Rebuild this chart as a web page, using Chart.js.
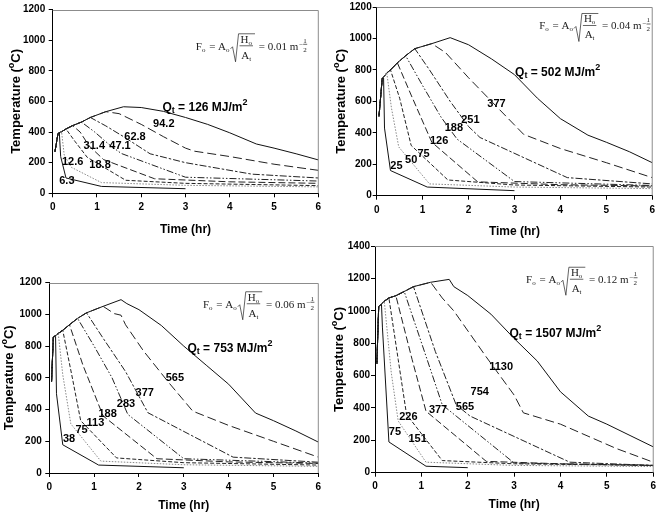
<!DOCTYPE html>
<html>
<head>
<meta charset="utf-8">
<script src="https://cdn.jsdelivr.net/npm/chart.js@4.4.0/dist/chart.umd.min.js"></script>
<style>
  html, body { margin: 0; padding: 0; background: #fff; }
  #wrap { position: relative; width: 660px; height: 514px; overflow: hidden; background: #fff; }
  canvas { position: absolute; }
</style>
</head>
<body>
<div id="wrap">
  <canvas id="c1" width="330" height="257" style="left:0px;top:0px"></canvas>
  <canvas id="c2" width="330" height="257" style="left:330px;top:0px"></canvas>
  <canvas id="c3" width="330" height="257" style="left:0px;top:257px"></canvas>
  <canvas id="c4" width="330" height="284" style="left:330px;top:230px"></canvas>
</div>
<script>
// time in hours, temperature in deg C

// Fo = 0.01
const fo1Names = ['6.3', '12.6', '18.8', '31.4', '47.1', '62.8', '94.2'];
const fo1Qt = '126';
const fo1Env = [[0.05,270],[0.12,390],[0.2,402],[0.3,420],[0.45,442],[0.65,465],[0.85,495],[1.2,533],[1.6,565]];
const fo1Decay = [
  [[0.15,395],[0.18,240],[0.3,100],[1.1,45],[3,30]],
  [[0.26,250],[0.42,170],[1.1,70],[3,52],[6,42]],
  [[0.5,340],[0.78,235],[1.65,85],[3,65],[6,50]],
  [[0.62,400],[0.82,310],[1.15,220],[2.3,95],[4,75],[6,65]],
  [[0.95,400],[1.3,312],[1.55,260],[3.0,105],[6,80]],
  [[1.2,440],[1.6,370],[2.2,258],[3,200],[4.5,125],[6,100]],
  [[1.5,520],[2.0,450],[2.5,370],[3.0,295],[3.2,275],[4,240],[5,190],[6,150]],
  [[2.0,560],[2.5,535],[3.0,495],[3.5,450],[4.0,395],[4.6,322],[5.0,295],[5.5,258],[6,218]]
];

// Fo = 0.04
const fo2Names = ['25', '50', '75', '126', '188', '251', '377'];
const fo2Qt = '502';
const fo2Env = [[0.05,505],[0.12,745],[0.22,780],[0.3,800],[0.45,845],[0.63,890],[0.83,935],[1.2,967],[1.6,1005]];
const fo2Decay = [
  [[0.15,748],[0.17,430],[0.3,160],[1.1,55],[3,32]],
  [[0.32,560],[0.48,310],[1.15,75],[3,55],[6,45]],
  [[0.5,620],[0.75,320],[1.55,100],[3,68],[6,55]],
  [[0.75,640],[1.2,340],[2.2,88],[4,70],[6,62]],
  [[1.0,700],[1.4,500],[1.75,360],[3.0,90],[6,65]],
  [[1.15,800],[1.6,600],[2.0,440],[2.25,370],[4.15,115],[6,75]],
  [[1.5,910],[2.0,750],[2.5,600],[3.0,450],[3.2,390],[4,300],[5,210],[6,115]],
  [[2.0,960],[2.5,870],[3.0,770],[3.5,620],[4.0,490],[4.6,385],[5,340],[5.5,280],[6,210]]
];

// Fo = 0.06
const fo3Names = ['38', '75', '113', '188', '283', '377', '565'];
const fo3Qt = '753';
const fo3Env = [[0.05,575],[0.09,857],[0.2,880],[0.3,900],[0.45,935],[0.63,975],[0.83,1010],[1.2,1051],[1.6,1093]];
const fo3Decay = [
  [[0.14,862],[0.16,500],[0.3,178],[1.1,50],[3,33]],
  [[0.3,620],[0.48,310],[1.15,75],[3,52],[6,42]],
  [[0.5,620],[0.7,330],[1.5,95],[3,65],[6,50]],
  [[0.75,680],[1.2,360],[2.4,90],[4,70],[6,60]],
  [[1.0,800],[1.4,600],[1.75,370],[3.0,90],[6,62]],
  [[1.2,850],[1.7,640],[2.2,380],[4.1,100],[6,68]],
  [[1.45,1005],[1.6,995],[1.7,935],[2.1,770],[2.65,575],[3.2,390],[4,300],[5,200],[6,100]],
  [[1.73,1068],[2.0,1030],[2.5,930],[3.0,800],[3.5,680],[4.0,560],[4.6,378],[5,330],[5.5,265],[6,195]]
];

// Fo = 0.12
const fo4Names = ['75', '151', '226', '377', '565', '754', '1130'];
const fo4Qt = '1507';
const fo4Env = [[0.04,673],[0.08,1028],[0.2,1060],[0.3,1080],[0.45,1094],[0.63,1120],[0.83,1150],[1.2,1177],[1.6,1195]];
const fo4Decay = [
  [[0.14,1040],[0.16,900],[0.3,190],[1.1,40],[2.0,31]],
  [[0.35,620],[0.5,320],[1.1,65],[3,45],[6,38]],
  [[0.5,700],[0.68,360],[1.45,75],[3,55],[6,45]],
  [[0.8,700],[1.1,380],[2.4,70],[4,55],[6,45]],
  [[1.1,720],[1.45,420],[1.75,350],[3.0,60],[6,45]],
  [[1.3,750],[1.75,420],[2.05,350],[4.2,65],[6,45]],
  [[1.45,1080],[1.7,1000],[2.4,715],[3.0,480],[3.2,370],[4,300],[5.2,150],[6,65]],
  [[1.7,1150],[2.0,1095],[2.5,980],[3.0,830],[3.5,690],[4.0,500],[4.6,350],[5,300],[5.5,230],[6,160]]
];

// how many envelope points each curve follows before it decays
const risePoints = [2, 3, 4, 5, 6, 7, 8, 9];

// where the curve labels sit (hr, deg C)
const fo1NamePos = [[0.32,81],[0.45,204],[1.07,183],[0.94,312],[1.52,312],[1.86,370],[2.51,451]];
const fo2NamePos = [[0.43,188],[0.75,230],[1.02,267],[1.36,351],[1.68,430],[2.04,482],[2.61,583]];
const fo3NamePos = [[0.44,214],[0.72,271],[1.03,317],[1.3,372],[1.71,435],[2.13,502],[2.8,601]];
const fo4NamePos = [[0.43,250],[0.92,210],[0.72,343],[1.36,385],[1.94,406],[2.26,498],[2.72,656]];

const lineColors = ['#111', '#888', '#222', '#222', '#222', '#222', '#222', '#111'];
const lineDashes = [[], [1.5, 1.5], [4, 2], [7, 3], [7, 2, 1.5, 2, 1.5, 2], [7, 2, 2.5, 2], [9, 4], []];

const sansFont = '"Liberation Sans", Arial, sans-serif';
const serifFont = '"Liberation Serif", "Times New Roman", serif';

// draw text pieces one after another, centred on cx
function drawRich(ctx, parts, cx, cy)
{
  let total = 0;
  parts.forEach(p => { ctx.font = p[1]; total += ctx.measureText(p[0]).width; });
  let xx = cx - total / 2;
  parts.forEach(p => {
    ctx.font = p[1];
    ctx.fillText(p[0], xx, cy + p[2]);
    xx += ctx.measureText(p[0]).width;
  });
}

// Fo = Ao sqrt(Ho/At) = val m^-1/2
function drawFormula(ctx, cx, by, val)
{
  const big = '11px ' + serifFont;
  const sm = '7px ' + serifFont;
  const wOf = (t, f) => { ctx.font = f; return ctx.measureText(t).width; };
  ctx.save();
  ctx.fillStyle = '#222';
  ctx.strokeStyle = '#222';
  ctx.lineWidth = 0.7;
  ctx.textAlign = 'left';
  ctx.textBaseline = 'alphabetic';

  const numW = wOf('H', big) + wOf('o', sm);
  const denW = wOf('A', big) + wOf('t', sm);
  const fracW = Math.max(numW, denW) + 2;
  const total = wOf('F', big) + wOf('o', sm) + 1 + wOf(' = A', big) + wOf('o', sm) + 1 + 9 + fracW + 3 + wOf(' = ' + val + ' m', big) + 8;
  let x = cx - total / 2;
  const put = (t, f, dy) => { ctx.font = f; ctx.fillText(t, x, by + dy); x += ctx.measureText(t).width; };

  put('F', big, 0); put('o', sm, 2); x += 1;
  put(' = A', big, 0); put('o', sm, 2); x += 1;

  ctx.beginPath();
  ctx.moveTo(x, by - 1);
  ctx.lineTo(x + 2, by - 3);
  ctx.lineTo(x + 5, by + 12);
  ctx.lineTo(x + 8, by - 16);
  ctx.lineTo(x + 9 + fracW + 2, by - 16);
  ctx.stroke();
  x += 9;

  const fx = x;
  x = fx + (fracW - numW) / 2;
  put('H', big, -7); put('o', sm, -5);
  x = fx + (fracW - denW) / 2;
  put('A', big, 9); put('t', sm, 11);
  ctx.beginPath();
  ctx.moveTo(fx, by - 4);
  ctx.lineTo(fx + fracW, by - 4);
  ctx.stroke();

  x = fx + fracW + 3;
  put(' = ' + val + ' m', big, 0);
  x += 1;
  ctx.font = sm;
  ctx.fillText('\u2212', x, by - 3);
  x += wOf('\u2212', sm);
  ctx.fillText('1', x, by - 7);
  ctx.fillText('2', x, by + 2);
  ctx.beginPath();
  ctx.moveTo(x, by - 5.5);
  ctx.lineTo(x + 4, by - 5.5);
  ctx.stroke();
  ctx.restore();
}

const decor = {
  id: 'decor',
  afterDraw(chart, args, o)
  {
    const ctx = chart.ctx;
    const a = chart.chartArea;
    const sx = chart.scales.x;
    const sy = chart.scales.y;
    ctx.save();

    // top and right frame
    ctx.strokeStyle = '#8c8c8c';
    ctx.lineWidth = 1;
    ctx.beginPath();
    ctx.moveTo(a.left, Math.round(a.top) + 0.5);
    ctx.lineTo(a.right, Math.round(a.top) + 0.5);
    ctx.lineTo(a.right, a.bottom);
    ctx.stroke();

    ctx.fillStyle = '#000';

    // curve labels
    ctx.font = 'bold 11px ' + sansFont;
    ctx.textAlign = 'center';
    ctx.textBaseline = 'middle';
    o.names.forEach((n, i) => {
      ctx.fillText(n, sx.getPixelForValue(o.namePos[i][0]), sy.getPixelForValue(o.namePos[i][1]));
    });

    // Qt label
    ctx.textAlign = 'left';
    const b12 = 'bold 12px ' + sansFont;
    const b9 = 'bold 9px ' + sansFont;
    drawRich(ctx, [['Q', b12, 0], ['t', b9, 3], [' = ' + o.qt + ' MJ/m', b12, 0], ['2', b9, -5]],
      sx.getPixelForValue(o.qtPos[0]), sy.getPixelForValue(o.qtPos[1]));

    // formula
    drawFormula(ctx, sx.getPixelForValue(o.foPos[0]), sy.getPixelForValue(o.foPos[1]), o.fo);

    // axis titles
    ctx.font = 'bold 12px ' + sansFont;
    ctx.textAlign = 'center';
    ctx.textBaseline = 'middle';
    ctx.fillText('Time (hr)', (a.left + a.right) / 2, o.xTitleY);

    ctx.translate(o.yTitleX, (a.top + a.bottom) / 2);
    ctx.rotate(-Math.PI / 2);
    ctx.textAlign = 'left';
    const b13 = 'bold 13px ' + sansFont;
    drawRich(ctx, [['Temperature (', b13, 0], ['o', 'bold 9px ' + sansFont, -4], ['C)', b13, 0]], 0, 0);
    ctx.restore();
  }
};

function makePanel(p)
{
  let datasets = p.decay.map((d, i) => ({
    data: p.env.slice(0, risePoints[i]).concat(d).map(pt => ({x: pt[0], y: pt[1]})),
    borderColor: lineColors[i],
    borderWidth: 1,
    borderDash: lineDashes[i],
    pointRadius: 0,
    tension: 0,
    fill: false
  }));

  let tickFont = {family: sansFont, size: 10, weight: 'bold'};

  new Chart(document.getElementById(p.id), {
    type: 'line',
    data: {datasets: datasets},
    options: {
      responsive: false,
      animation: false,
      devicePixelRatio: 1,
      layout: {
        autoPadding: false,
        padding: {left: 0, top: p.area.top, right: p.w - p.area.right, bottom: 0}
      },
      plugins: {
        legend: {display: false},
        tooltip: {enabled: false},
        decor: p.decor
      },
      scales: {
        x: {
          type: 'linear', min: 0, max: 6,
          afterFit: s => { s.height = p.h - p.area.bottom; },
          ticks: {stepSize: 1, padding: p.xPad, color: '#000', font: tickFont, callback: v => String(v)},
          grid: {drawOnChartArea: false, tickLength: 4, color: '#000'},
          border: {color: '#000'}
        },
        y: {
          type: 'linear', min: 0, max: p.yMax,
          afterFit: s => { s.width = p.area.left; },
          ticks: {stepSize: 200, padding: p.yPad, color: '#000', font: tickFont, callback: v => String(v)},
          grid: {drawOnChartArea: false, tickLength: 4, color: '#000'},
          border: {color: '#000'}
        }
      }
    },
    plugins: [decor]
  });
}

makePanel({
  id: 'c1', w: 330, h: 257, yMax: 1200, xPad: 4, yPad: 3.5,
  area: {left: 52.7, right: 318.3, top: 7.3, bottom: 193.3},
  env: fo1Env, decay: fo1Decay,
  decor: {names: fo1Names, namePos: fo1NamePos, qt: fo1Qt, qtPos: [3.44, 559], fo: '0.01', foPos: [4.48, 937], xTitleY: 230, yTitleX: 16}
});
makePanel({
  id: 'c2', w: 330, h: 257, yMax: 1200, xPad: 5, yPad: 1,
  area: {left: 46.7, right: 326, top: 5.7, bottom: 195.7},
  env: fo2Env, decay: fo2Decay,
  decor: {names: fo2Names, namePos: fo2NamePos, qt: fo2Qt, qtPos: [3.94, 783], fo: '0.04', foPos: [4.74, 1057], xTitleY: 232, yTitleX: 11}
});
makePanel({
  id: 'c3', w: 330, h: 257, yMax: 1200, xPad: 4, yPad: 3.5,
  area: {left: 49.3, right: 318.3, top: 25.7, bottom: 216},
  env: fo3Env, decay: fo3Decay,
  decor: {names: fo3Names, namePos: fo3NamePos, qt: fo3Qt, qtPos: [4.03, 784], fo: '0.06', foPos: [4.66, 1042], xTitleY: 249, yTitleX: 9}
});
makePanel({
  id: 'c4', w: 330, h: 284, yMax: 1400, xPad: 4, yPad: 1,
  area: {left: 45, right: 324, top: 16.2, bottom: 242.7},
  env: fo4Env, decay: fo4Decay,
  decor: {names: fo4Names, namePos: fo4NamePos, qt: fo4Qt, qtPos: [3.89, 858], fo: '0.12', foPos: [4.45, 1171], xTitleY: 275, yTitleX: 9}
});
</script>
</body>
</html>
